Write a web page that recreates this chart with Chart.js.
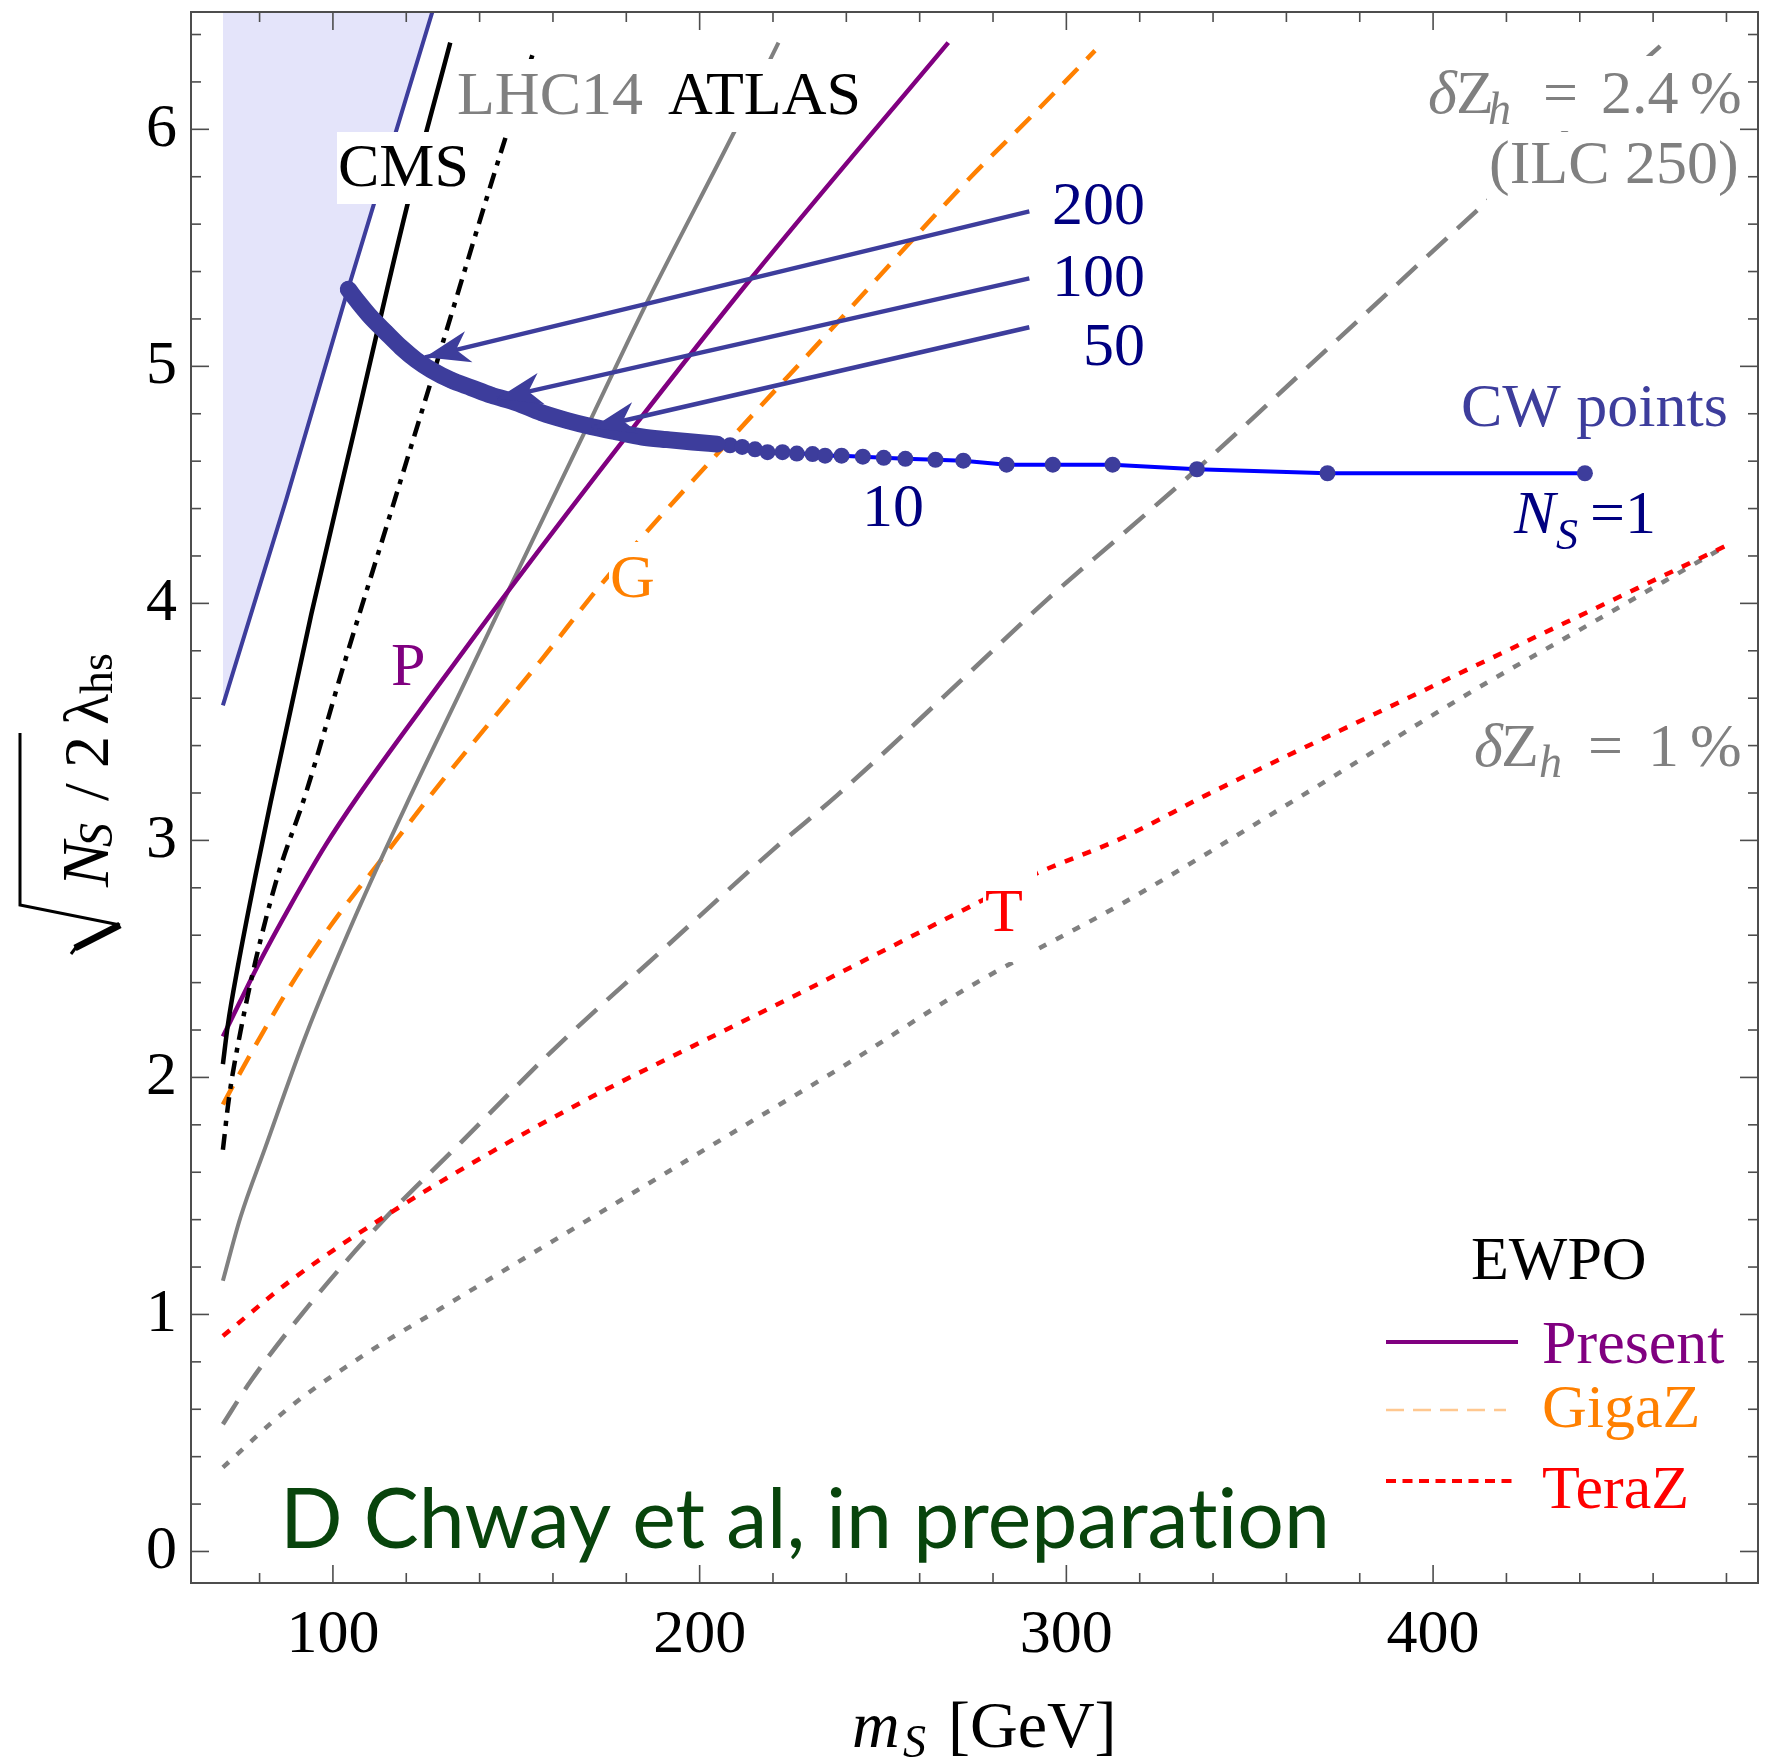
<!DOCTYPE html>
<html lang="en">
<head>
<meta charset="UTF-8" />
<title>CW points vs EWPO reach</title>
<script src="https://cdn.jsdelivr.net/npm/chart.js"></script>
<style>
  html, body { margin: 0; padding: 0; background: #fff; }
  #wrap { width: 1766px; height: 1762px; }
</style>
</head>
<body>
<div id="wrap"><canvas id="plot" width="1766" height="1762"></canvas></div>
<script>
// axes
const xRange = [61.3, 488.6];
const yRange = [-0.133, 6.495];
const xTicks = [100, 200, 300, 400];
const yTicks = [0, 1, 2, 3, 4, 5, 6];

// excluded region (shaded) edge
const shadeX = [70, 87.3, 104.2, 127.2];
const shadeY = [3.57, 4.44, 5.33, 6.5];

// LHC14 CMS (solid) and LHC14 projection (dot-dash), ATLAS (gray)
const cmsX = [70, 71.3, 74.1, 78.9, 83, 94.1, 106, 120.2, 132];
const cmsY = [2.056, 2.216, 2.47, 2.853, 3.16, 3.954, 4.74, 5.675, 6.366];
const lhcX = [70, 71.7, 74.8, 78.9, 85, 92.5, 103, 115.7, 127.9, 147, 154.6];
const lhcY = [1.695, 1.918, 2.194, 2.492, 2.853, 3.193, 3.742, 4.379, 4.995, 5.962, 6.323];
const atlasX = [70, 74.75, 81.6, 92.5, 106.2, 121.3, 135, 148.7, 169.2, 185, 209.6, 221.5];
const atlasY = [1.142, 1.408, 1.706, 2.173, 2.683, 3.193, 3.635, 4.081, 4.74, 5.25, 5.994, 6.366];

// EWPO: present, GigaZ, TeraZ
const presentX = [70, 74.75, 80.2, 88.4, 98, 107, 128.9, 148.7, 180.2, 214.4, 267.8];
const presentY = [2.173, 2.322, 2.492, 2.725, 2.98, 3.19, 3.657, 4.071, 4.708, 5.378, 6.366];
const gigaX = [70, 74.1, 79.5, 88.4, 99.4, 113.1, 126.8, 156.9, 174.4, 206.2, 237.7, 258.2, 274, 290.8, 307.8];
const gigaY = [1.886, 2.003, 2.152, 2.386, 2.641, 2.917, 3.193, 3.763, 4.103, 4.655, 5.187, 5.537, 5.8, 6.06, 6.332];
const teraX = [70, 88.4, 115.8, 143.2, 170.6, 197.9, 225.3, 252.7, 275.7, 290.8, 315.5, 338, 383.9, 438.7, 480.4];
const teraY = [0.909, 1.142, 1.43, 1.685, 1.918, 2.13, 2.34, 2.555, 2.736, 2.853, 3.012, 3.19, 3.532, 3.938, 4.247];

// delta Z_h contours
const dz24X = [70, 77.5, 93.9, 113.1, 135, 159.6, 191.1, 219.9, 237.7, 274.4, 294.9, 315.5, 335.6, 373.1, 414, 463];
const dz24Y = [0.537, 0.717, 1.047, 1.387, 1.727, 2.109, 2.555, 2.959, 3.193, 3.72, 4.018, 4.294, 4.566, 5.101, 5.686, 6.366];
const dz1X = [70, 88.4, 109, 129.5, 156.9, 184.3, 211.6, 239, 274.4, 315.5, 364.7, 411.3, 438.7, 479.7];
const dz1Y = [0.355, 0.611, 0.834, 1.026, 1.281, 1.536, 1.791, 2.046, 2.39, 2.736, 3.193, 3.635, 3.877, 4.241];

// CW points: dense band (large N_S) and separate points down to N_S = 1
const bandX = [104.2, 106.9, 110.3, 114.4, 118.6, 122.7, 126.8, 132.2, 137.7, 143.2, 150.0, 156.9, 163.7, 170.6, 177.4, 184.3, 191.1, 198.0, 204.8];
const bandY = [5.325, 5.271, 5.208, 5.144, 5.080, 5.027, 4.985, 4.942, 4.910, 4.878, 4.847, 4.804, 4.772, 4.745, 4.723, 4.702, 4.691, 4.681, 4.672];
const cwX = [208.3, 211.6, 215.1, 218.5, 222.6, 226.5, 230.8, 234.2, 238.7, 244.5, 250.2, 256.1, 264.3, 271.9, 283.7, 296.3, 312.6, 335.6, 371.2, 441.4];
const cwY = [4.667, 4.660, 4.650, 4.638, 4.638, 4.632, 4.630, 4.623, 4.623, 4.619, 4.614, 4.610, 4.606, 4.602, 4.585, 4.585, 4.585, 4.566, 4.549, 4.549];

// arrows N_S = 200, 100, 50
const arrowLabels = ['200', '100', '50'];
const arrowX0 = [289.9, 289.9, 289.9];
const arrowY0 = [5.654, 5.371, 5.165];
const arrowX1 = [125.1, 144.8, 170.6];
const arrowY1 = [5.038, 4.864, 4.740];

const SERIF = "'Liberation Serif', 'Times New Roman', serif";
const cwColor = '#3d3d9c';
const navy = '#000080';
const gray = '#808080';

const pts = (xs, ys) => xs.map((x, i) => ({ x, y: ys[i] }));

const curve = (data, color, width, dash, order) => ({
  data, borderColor: color, borderWidth: width, borderDash: dash || [],
  showLine: true, pointRadius: 0, fill: false, order,
  cubicInterpolationMode: 'monotone', borderCapStyle: 'butt'
});

const datasets = [
  Object.assign(curve(pts(shadeX, shadeY), cwColor, 4, null, 20), {
    fill: 'end', backgroundColor: '#e4e4fa', cubicInterpolationMode: 'default', tension: 0
  }),
  curve(pts(dz24X, dz24Y), gray, 4.5, [27, 14], 15),
  curve(pts(dz1X, dz1Y), gray, 4.5, [8, 11], 15),
  curve(pts(teraX, teraY), '#ff0000', 4.5, [9, 10], 14),
  curve(pts(gigaX, gigaY), '#ff8000', 4.5, [21, 13], 13),
  curve(pts(atlasX, atlasY), gray, 4, null, 12),
  curve(pts(presentX, presentY), '#800080', 4.5, null, 11),
  curve(pts(cmsX, cmsY), '#000000', 4.5, null, 10),
  curve(pts(lhcX, lhcY), '#000000', 4.5, [16, 8, 5, 8], 10),
  {
    data: pts(bandX.concat(cwX), bandY.concat(cwY)),
    borderColor: '#0000ff', borderWidth: 4, showLine: true, tension: 0,
    pointRadius: 8, pointHoverRadius: 8, pointBackgroundColor: cwColor, pointBorderWidth: 0, order: 4
  },
  Object.assign(curve(pts(bandX, bandY), cwColor, 17, null, 3), { borderCapStyle: 'round' })
];
arrowX0.forEach((x0, i) => {
  datasets.push({
    data: [{ x: x0, y: arrowY0[i] }, { x: arrowX1[i], y: arrowY1[i] }],
    borderColor: cwColor, borderWidth: 4.5, showLine: true, pointRadius: 0, order: 1
  });
});

function txt(ctx, s, x, y, font, color, align) {
  ctx.font = font;
  ctx.fillStyle = color;
  ctx.textAlign = align || 'left';
  ctx.fillText(s, x, y);
}

const arrowHeads = {
  id: 'arrowHeads',
  afterDatasetsDraw(chart) {
    const { ctx, scales: { x, y } } = chart;
    arrowX0.forEach((x0, i) => {
      const p0 = [x.getPixelForValue(x0), y.getPixelForValue(arrowY0[i])];
      const p1 = [x.getPixelForValue(arrowX1[i]), y.getPixelForValue(arrowY1[i])];
      const a = Math.atan2(p1[1] - p0[1], p1[0] - p0[0]);
      ctx.save();
      ctx.translate(p1[0], p1[1]);
      ctx.rotate(a);
      ctx.beginPath();
      ctx.moveTo(0, 0);
      ctx.lineTo(-45, -16);
      ctx.lineTo(-32, 0);
      ctx.lineTo(-45, 16);
      ctx.closePath();
      ctx.fillStyle = cwColor;
      ctx.fill();
      ctx.restore();
    });
  }
};

const labels = {
  id: 'labels',
  afterDatasetsDraw(chart) {
    const ctx = chart.ctx;
    ctx.save();
    ctx.textBaseline = 'alphabetic';
    // white backgrounds behind labels sitting on curves
    ctx.fillStyle = '#fff';
    [[337, 132, 130, 72], [456, 59, 414, 73], [609, 542, 46, 73], [983, 870, 54, 92],
     [1425, 56, 318, 75], [1487, 132, 258, 71]].forEach(b => ctx.fillRect(b[0], b[1], b[2], b[3]));

    const f = 62;
    const R = f + 'px ' + SERIF, I = 'italic ' + f + 'px ' + SERIF;
    txt(ctx, 'CMS', 338, 186, R, '#000');
    txt(ctx, 'LHC14', 457, 114, R, gray);
    txt(ctx, 'ATLAS', 668, 114, R, '#000');
    txt(ctx, 'P', 391, 685, R, '#800080');
    txt(ctx, 'G', 610, 597, R, '#ff8000');
    txt(ctx, 'T', 985, 931, R, '#ff0000');
    txt(ctx, '10', 862, 526, R, navy);
    const lblY = [224, 296, 365];
    arrowLabels.forEach((s, i) => txt(ctx, s, 1145, lblY[i], R, navy, 'right'));
    txt(ctx, 'CW points', 1461, 426, R, cwColor);
    txt(ctx, 'N', 1514, 533, I, navy);
    txt(ctx, 'S', 1556, 549, 'italic 44px ' + SERIF, navy);
    txt(ctx, '=1', 1590, 533, R, navy);

    txt(ctx, 'δ', 1428, 113, I, gray);
    txt(ctx, 'Z', 1456, 113, R, gray);
    txt(ctx, 'h', 1488, 124, 'italic 46px ' + SERIF, gray);
    txt(ctx, '=', 1543, 113, R, gray);
    txt(ctx, '2.4', 1601, 113, R, gray);
    txt(ctx, '%', 1690, 113, R, gray);
    txt(ctx, '(ILC 250)', 1489, 183, R, gray);

    txt(ctx, 'δ', 1474, 766, I, gray);
    txt(ctx, 'Z', 1501, 766, R, gray);
    txt(ctx, 'h', 1539, 777, 'italic 46px ' + SERIF, gray);
    txt(ctx, '=', 1588, 766, R, gray);
    txt(ctx, '1', 1648, 766, R, gray);
    txt(ctx, '%', 1690, 766, R, gray);

    // EWPO key
    txt(ctx, 'EWPO', 1471, 1279, R, '#000');
    const key = [
      ['Present', '#800080', [], 4, 1342, 1363, 1518],
      ['GigaZ', '#ff8000', [18, 9], 2.5, 1410, 1427, 1506],
      ['TeraZ', '#ff0000', [10, 6.5], 4, 1481, 1508, 1518]
    ];
    key.forEach(k => {
      ctx.beginPath();
      ctx.setLineDash(k[2]);
      ctx.strokeStyle = k[0] === 'GigaZ' ? '#ffc890' : k[1];
      ctx.lineWidth = k[3];
      ctx.moveTo(1386, k[4]);
      ctx.lineTo(k[6], k[4]);
      ctx.stroke();
      txt(ctx, k[0], 1542, k[5], R, k[1]);
    });
    ctx.setLineDash([]);

    // credit line, fitted to its width in the figure (no "ti" ligature)
    ctx.font = "84px Lato, 'Open Sans', sans-serif";
    const credit = 'D Chway et al, in preparat\u200Cion';
    const w = ctx.measureText(credit).width;
    ctx.save();
    ctx.translate(280, 1548);
    ctx.scale(1050 / w, 1);
    ctx.fillStyle = '#08440c';
    ctx.textAlign = 'left';
    ctx.fillText(credit, 0, 0);
    ctx.restore();
    ctx.restore();
  }
};

const frame = {
  id: 'frame',
  afterDraw(chart) {
    const { ctx, chartArea: a, scales: { x, y } } = chart;
    ctx.save();
    ctx.strokeStyle = '#4d4d4d';
    ctx.lineWidth = 2;
    ctx.strokeRect(a.left, a.top, a.right - a.left, a.bottom - a.top);
    ctx.lineWidth = 1.6;
    const seg = (x0, y0, x1, y1) => { ctx.beginPath(); ctx.moveTo(x0, y0); ctx.lineTo(x1, y1); ctx.stroke(); };
    for (let v = 80; v <= 480; v += 20) {
      const len = v % 100 === 0 ? 18 : 10;
      const p = x.getPixelForValue(v);
      seg(p, a.bottom, p, a.bottom - len);
      seg(p, a.top, p, a.top + len);
    }
    for (let k = 0; k <= 32; k++) {
      const len = k % 5 === 0 ? 18 : 10;
      const p = y.getPixelForValue(k * 0.2);
      seg(a.left, p, a.left + len, p);
      seg(a.right, p, a.right - len, p);
    }

    // axis titles
    ctx.textBaseline = 'alphabetic';
    txt(ctx, 'm', 852, 1747, 'italic 66px ' + SERIF, '#000');
    txt(ctx, 'S', 903, 1757, 'italic 46px ' + SERIF, '#000');
    txt(ctx, '[GeV]', 948, 1747, '66px ' + SERIF, '#000');

    ctx.translate(108, 887);
    ctx.rotate(-Math.PI / 2);
    txt(ctx, 'N', 0, 0, 'italic 68px ' + SERIF, '#000');
    txt(ctx, 'S', 40, 4, 'italic 48px ' + SERIF, '#000');
    txt(ctx, '/', 86, 0, '64px ' + SERIF, '#000');
    txt(ctx, '2', 119, 0, '64px ' + SERIF, '#000');
    txt(ctx, 'λ', 162, 0, '64px ' + SERIF, '#000');
    txt(ctx, 'hs', 193, 4, '46px ' + SERIF, '#000');
    ctx.strokeStyle = '#000';
    ctx.lineWidth = 3;
    ctx.beginPath();
    ctx.moveTo(-38, 12); ctx.lineTo(-18, -88); ctx.lineTo(154, -88);
    ctx.stroke();
    ctx.lineWidth = 7;
    ctx.beginPath(); ctx.moveTo(-61, -33); ctx.lineTo(-38, 12); ctx.stroke();
    ctx.lineWidth = 3;
    ctx.beginPath(); ctx.moveTo(-67, -37); ctx.lineTo(-59, -31); ctx.stroke();
    ctx.restore();
  }
};

// keep the frame exactly where the figure has it: no label overhang padding
const noOverhang = s => {
  s.paddingLeft = 0; s.paddingRight = 0; s.paddingTop = 0; s.paddingBottom = 0;
};

new Chart(document.getElementById('plot'), {
  type: 'scatter',
  data: { datasets },
  options: {
    responsive: false,
    animation: false,
    devicePixelRatio: 1,
    layout: { padding: { left: 0, top: 12, right: 3, bottom: 0 } },
    plugins: { legend: { display: false }, tooltip: { enabled: false } },
    scales: {
      x: {
        type: 'linear', min: xRange[0], max: xRange[1],
        grid: { display: false, drawTicks: false }, border: { display: false },
        afterBuildTicks: s => { s.ticks = xTicks.map(v => ({ value: v })); },
        afterFit: s => { s.height = 179; noOverhang(s); },
        ticks: { color: '#000', padding: 16, maxRotation: 0, font: { family: SERIF, size: 62 }, callback: v => String(v) }
      },
      y: {
        type: 'linear', min: yRange[0], max: yRange[1],
        grid: { display: false, drawTicks: false }, border: { display: false },
        afterBuildTicks: s => { s.ticks = yTicks.map(v => ({ value: v })); },
        afterFit: s => { s.width = 191; noOverhang(s); },
        ticks: { color: '#000', padding: 14, font: { family: SERIF, size: 62 }, callback: v => String(v) }
      }
    }
  },
  plugins: [arrowHeads, labels, frame]
});
</script>
</body>
</html>
